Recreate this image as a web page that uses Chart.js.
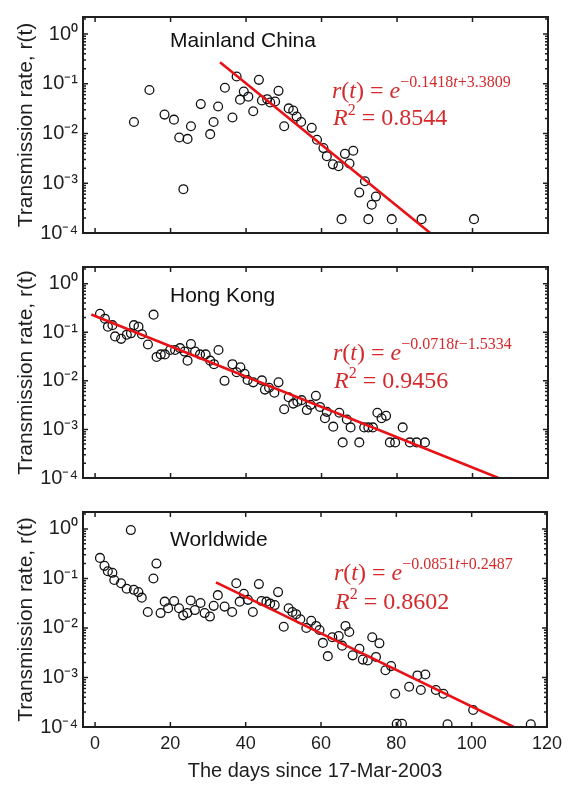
<!DOCTYPE html>
<html><head><meta charset="utf-8">
<script src="https://cdn.jsdelivr.net/npm/chart.js@4/dist/chart.umd.min.js"></script>
<style>
html,body{margin:0;padding:0;background:#fff;}
#wrap{position:relative;width:568px;height:786px;overflow:hidden;background:#fff;}
.p{position:absolute;left:0;width:568px;}
</style></head><body>
<div id="wrap">
<div class="p" style="top:0;height:250px"><canvas id="c1"></canvas></div>
<div class="p" style="top:250px;height:245px"><canvas id="c2"></canvas></div>
<div class="p" style="top:495px;height:291px"><canvas id="c3"></canvas></div>
</div>
<script>
// ---- axis settings ----
const xTickValues = [0, 20, 40, 60, 80, 100, 120];
const yTickValues = [1e-4, 1e-3, 1e-2, 1e-1, 1];
const xMin = -3.2, xMax = 120, yMin = 1e-4, yMax = 2.2;
const xTitle = 'The days since 17-Mar-2003';
const yTitle = 'Transmission rate, r(t)';

// ---- Mainland China ----
const chinaX = [10.3,14.4,18.4,20.9,22.3,23.4,24.5,25.4,28.0,30.5,31.4,32.6,34.4,36.4,37.5,38.4,39.4,40.6,41.9,43.4,44.2,45.6,46.4,47.7,48.6,50.1,51.3,52.5,53.4,54.6,57.4,58.8,60.5,61.4,63.0,64.5,66.2,67.4,68.4,70.0,71.5,73.3,74.4,65.3,72.4,78.6,86.5,100.4];
const chinaY = [0.017,0.075,0.024,0.019,0.0083,0.00076,0.0078,0.014,0.039,0.0097,0.017,0.035,0.083,0.021,0.14,0.048,0.070,0.055,0.028,0.12,0.046,0.049,0.042,0.044,0.072,0.014,0.032,0.029,0.022,0.017,0.013,0.0075,0.0051,0.0035,0.0024,0.0022,0.0039,0.0025,0.0045,0.00065,0.0011,0.00037,0.00054,0.00019,0.00019,0.00019,0.00019,0.00019];
const chinaFitX = [33.1, 88.8];
const chinaFitY = [0.27, 0.0001];

// ---- Hong Kong ----
const hkX = [1.3,2.6,3.4,4.6,5.3,6.9,8.4,9.5,10.3,11.5,12.4,14.0,15.5,16.3,17.4,18.5,19.9,21.2,22.5,23.7,24.5,25.4,26.5,27.8,29.3,30.5,31.5,32.7,34.3,36.4,37.5,38.5,39.6,40.4,41.9,44.2,45.0,46.1,47.5,48.6,50.1,51.3,52.5,53.6,54.7,56.1,57.1,58.5,59.6,60.9,61.4,63.1,64.7,65.6,66.7,67.7,70.0,71.3,72.4,73.6,74.8,75.9,77.1,78.1,79.5,81.5,83.4,85.2,87.4];
const hkY = [0.24,0.19,0.13,0.14,0.082,0.073,0.089,0.095,0.14,0.13,0.091,0.056,0.23,0.031,0.035,0.035,0.043,0.043,0.047,0.040,0.026,0.057,0.040,0.035,0.035,0.026,0.022,0.043,0.010,0.022,0.015,0.019,0.014,0.0104,0.0093,0.0102,0.0066,0.0072,0.0057,0.0093,0.0026,0.0046,0.0034,0.0037,0.0040,0.0025,0.0032,0.0049,0.0029,0.0017,0.0023,0.00114,0.0022,0.00054,0.0016,0.0011,0.00054,0.0011,0.0011,0.0011,0.0022,0.0017,0.0019,0.00054,0.00054,0.0011,0.00054,0.00054,0.00054];
const hkFitX = [-1.0, 106.9];
const hkFitY = [0.232, 0.0001];

// ---- Worldwide ----
const worldX = [1.3,2.5,3.4,4.6,5.1,6.9,8.4,9.5,10.3,11.5,12.4,14.0,15.5,16.3,17.4,18.5,19.4,21.0,22.3,23.4,24.5,25.4,26.5,28.0,29.1,30.5,31.5,32.6,34.4,36.4,37.5,38.4,39.5,40.6,41.9,43.5,44.2,45.5,46.5,47.7,48.6,50.1,51.4,52.4,53.4,54.5,56.1,57.4,58.7,59.6,60.5,61.8,63.0,64.7,65.6,66.5,67.5,68.4,70.2,71.1,72.4,73.6,74.6,75.5,77.1,78.6,79.7,80.1,81.5,83.4,85.6,86.5,87.7,90.5,92.5,93.6,100.4,115.7];
const worldY = [0.26,0.18,0.14,0.13,0.093,0.080,0.062,0.95,0.059,0.053,0.041,0.021,0.10,0.20,0.020,0.034,0.025,0.035,0.025,0.018,0.020,0.036,0.023,0.032,0.020,0.017,0.028,0.046,0.027,0.021,0.080,0.034,0.049,0.037,0.021,0.077,0.035,0.034,0.031,0.029,0.053,0.0106,0.025,0.021,0.019,0.015,0.010,0.014,0.011,0.0091,0.0050,0.0027,0.0065,0.0069,0.0044,0.011,0.0083,0.0028,0.0038,0.0023,0.0022,0.0065,0.0026,0.0049,0.0014,0.0017,0.00047,0.000116,0.000116,0.00065,0.0011,0.00056,0.00115,0.00056,0.00047,0.000113,0.00022,0.000113];
const worldFitX = [32.1, 111.2];
const worldFitY = [0.0835, 0.0001];

// ---- annotation texts ----
const panelNames = ['Mainland China', 'Hong Kong', 'Worldwide'];
const eqSlope = ['\u22120.1418', '\u22120.0718', '\u22120.0851'];
const eqIntercept = ['+3.3809', '\u22121.5334', '+0.2487'];
const r2Values = ['0.8544', '0.9456', '0.8602'];

// ---- styling / layout ----
const SANS = "'Liberation Sans', Arial, Helvetica, sans-serif";
const SERIF = "'Liberation Serif', 'Times New Roman', serif";
const RED_LINE = 'rgb(232,18,22)';
const RED_TEXT = 'rgb(212,42,44)';
const INK = '#1e1e1e';

const supMap = {'-':'\u207B','0':'\u2070','1':'\u00B9','2':'\u00B2','3':'\u00B3','4':'\u2074'};
function decadeLabel(v){
  const e = Math.round(Math.log10(v));
  return '10' + String(e).split('').map(c => supMap[c]).join('');
}
function pts(xs, ys){ return xs.map((x,i)=>({x:x, y:ys[i]})); }

function framePlugin(){
  return {
    id:'frame',
    afterDatasetsDraw(chart){
      const {ctx, chartArea:a, scales:{x, y}} = chart;
      ctx.save();
      ctx.strokeStyle = INK;
      ctx.lineWidth = 1.5;
      ctx.beginPath();
      xTickValues.forEach(v=>{
        const px = x.getPixelForValue(v);
        ctx.moveTo(px, a.bottom); ctx.lineTo(px, a.bottom-5);
        ctx.moveTo(px, a.top); ctx.lineTo(px, a.top+5);
      });
      for (let d=-4; d<=0; d++){
        for (let m=1; m<=9; m++){
          const v = m*Math.pow(10,d);
          if (v < yMin || v > yMax) continue;
          const py = y.getPixelForValue(v);
          const len = (m===1) ? 5 : 3;
          ctx.moveTo(a.left, py); ctx.lineTo(a.left+len, py);
          ctx.moveTo(a.right, py); ctx.lineTo(a.right-len, py);
        }
      }
      ctx.stroke();
      ctx.lineWidth = 2;
      ctx.strokeRect(a.left, a.top, a.right-a.left, a.bottom-a.top);
      ctx.restore();
    }
  };
}

function textPlugin(idx, lay){
  return {
    id:'texts',
    afterDraw(chart){
      const {ctx, chartArea:a} = chart;
      ctx.save();
      ctx.textBaseline = 'alphabetic';
      ctx.textAlign = 'left';
      // panel name
      ctx.fillStyle = '#111';
      ctx.font = '21px ' + SANS;
      ctx.fillText(panelNames[idx], a.left + 87, a.top + lay.name);
      // equation line 1
      ctx.fillStyle = RED_TEXT;
      let x = a.left + lay.eqx;
      const b1 = a.top + lay.l1, b2 = a.top + lay.l2;
      function seg(txt, font, yb){ ctx.font = font; ctx.fillText(txt, x, yb); x += ctx.measureText(txt).width; }
      const it = 'italic 24px ' + SERIF, up = '24px ' + SERIF;
      const sup = '16px ' + SERIF, supIt = 'italic 16px ' + SERIF;
      seg('r', it, b1); seg('(', up, b1); seg('t', it, b1); seg(')', up, b1);
      seg(' = ', up, b1); seg('e', it, b1);
      seg(eqSlope[idx], sup, b1-11); seg('t', supIt, b1-11); seg(eqIntercept[idx], sup, b1-11);
      // equation line 2
      x = a.left + lay.eqx + 1;
      seg('R', it, b2); seg('2', sup, b2-10); seg(' = ' + r2Values[idx], up, b2);
      ctx.restore();
    }
  };
}

function makeChart(id, idx, xs, ys, fx, fy, padding, showX, lay){
  const xScale = {
    type:'linear', min:xMin, max:xMax,
    afterBuildTicks(s){ s.ticks = xTickValues.map(v=>({value:v})); },
    grid:{display:false, drawTicks:false}, border:{display:false},
    display: showX
  };
  if (showX){
    xScale.ticks = {font:{size:18, family:SANS}, color:INK, padding:6, maxRotation:0, autoSkip:false,
      callback:(v)=>String(v)};
    xScale.title = {display:true, text:xTitle, font:{size:20, family:SANS}, color:INK, padding:{top:0, bottom:3}};
    xScale.afterFit = (s)=>{ s.height = 59; };
  }
  return new Chart(document.getElementById(id), {
    type:'scatter',
    data:{datasets:[
      {data:pts(fx, fy), showLine:true, borderColor:RED_LINE, borderWidth:2.6, pointRadius:0, fill:false},
      {data:pts(xs, ys), showLine:false, pointStyle:'circle', pointRadius:4.4, pointBorderWidth:1.3,
       borderColor:'#111', backgroundColor:'rgba(0,0,0,0)', pointBackgroundColor:'rgba(0,0,0,0)', pointBorderColor:'#111'}
    ]},
    options:{
      responsive:true, maintainAspectRatio:false, animation:false, devicePixelRatio:1,
      layout:{padding:padding},
      plugins:{legend:{display:false}, tooltip:{enabled:false}},
      scales:{
        x:xScale,
        y:{
          type:'logarithmic', min:yMin, max:yMax,
          afterBuildTicks(s){ s.ticks = yTickValues.map(v=>({value:v})); },
          afterFit(s){ s.width = 83; },
          ticks:{font:{size:20, family:SANS}, color:INK, padding:5, autoSkip:false, callback:(v)=>decadeLabel(v)},
          grid:{display:false, drawTicks:false}, border:{display:false},
          title:{display:true, text:yTitle, font:{size:21, family:SANS}, color:INK, padding:{top:14, bottom:0}}
        }
      }
    },
    plugins:[framePlugin(), textPlugin(idx, lay)]
  });
}

makeChart('c1', 0, chinaX, chinaY, chinaFitX, chinaFitY, {top:13, bottom:16, left:0, right:20}, false, {name:30, eqx:249, l1:81, l2:108});
makeChart('c2', 1, hkX, hkY, hkFitX, hkFitY, {top:7, bottom:14, left:0, right:20}, false, {name:34.7, eqx:250, l1:93, l2:121});
makeChart('c3', 2, worldX, worldY, worldFitX, worldFitY, {top:10, bottom:0, left:0, right:20}, true, {name:34.3, eqx:251, l1:68, l2:97});
</script>
</body></html>
